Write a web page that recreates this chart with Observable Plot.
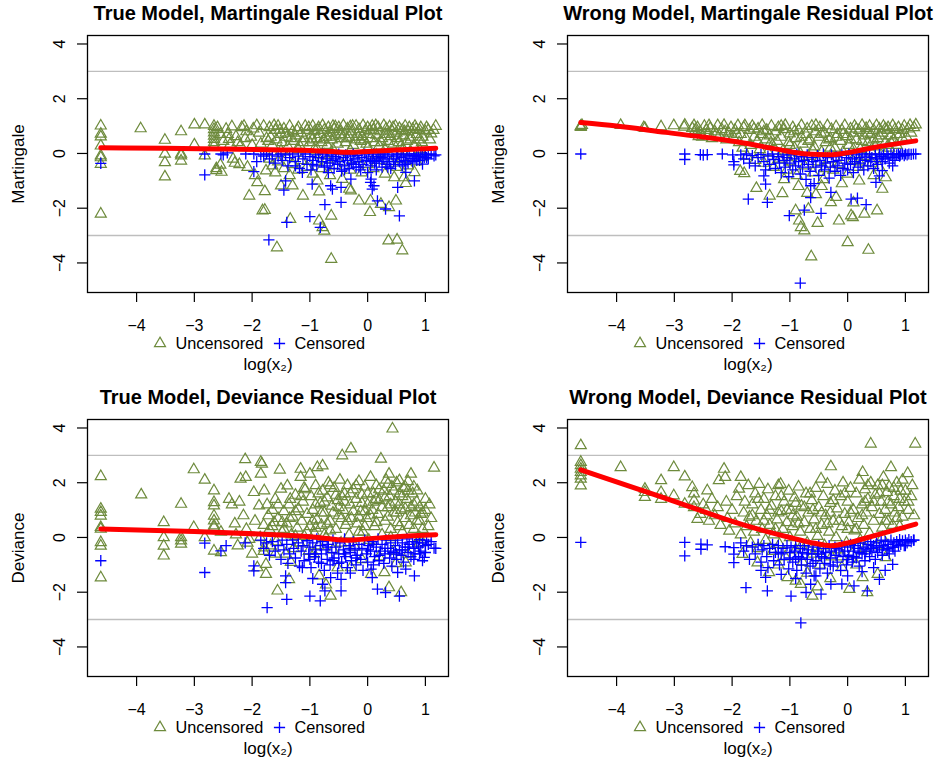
<!DOCTYPE html>
<html><head><meta charset="utf-8">
<script src="https://cdn.jsdelivr.net/npm/d3@7"></script>
<script src="https://cdn.jsdelivr.net/npm/@observablehq/plot@0.6"></script>
<style>
html,body{margin:0;padding:0;background:#fff;}
#fig{position:relative;width:937px;height:760px;overflow:hidden;background:#fff;}
.panel{position:absolute;}
</style></head><body><div id="fig"></div>
<script>
const xTicks = [-4,-3,-2,-1,0,1];
const yTicks = [-4,-2,0,2,4];
const refLines = [-3,3];
const legendLabels = ["Uncensored","Censored"];
const titles = ["True Model, Martingale Residual Plot","Wrong Model, Martingale Residual Plot","True Model, Deviance Residual Plot","Wrong Model, Deviance Residual Plot"];
const yLabels = ["Martingale","Martingale","Deviance","Deviance"];
const xLabel = "log(x\u2082)";

// Panel 1: true model, martingale
const u1 = [[-4.62,1.01],[-4.62,0.71],[-4.62,0.61],[-4.62,0.28],[-4.62,-0.08],[-4.62,-0.15],[-4.62,-0.39],[-4.62,-2.21],[-3.93,0.91],[-3.51,0.49],[-3.51,-0.02],[-3.51,-0.33],[-3.51,-0.85],[-3.23,0.8],[-3.23,-0.02],[-3.23,-0.08],[-3.23,-0.27],[-3.0,1.05],[-3.0,0.32],[-2.82,1.05],[-2.82,-0.08],
[-2.66,1.0],[-2.66,0.88],[-2.66,0.76],[-2.66,0.64],[-2.66,0.52],[-2.66,0.4],[-2.66,0.28],[-2.62,-0.55],[-2.62,-0.62],[-2.55,-0.42],[-2.53,-0.68],[-2.45,0.89],[-2.42,0.7],[-2.4,0.52],[-2.38,0.34],[-2.33,-0.2],[-2.3,-0.35],[-2.25,0.4],[-2.22,-0.4],[-2.18,0.95],[-2.14,1.0],[-2.1,0.8],[-2.08,-0.5],[-2.05,-1.55],[-2.02,0.6],[-1.98,0.9],[-1.95,-0.8],[-1.91,-1.06],[-1.88,0.75],[-1.85,0.35],[-1.82,-2.09],[-1.8,1.0],[-1.78,-1.39],[-1.76,-0.63],[-1.75,0.55],
[-1.7,0.95],[-1.68,0.6],[-1.65,0.3],[-1.6,0.85],[-1.58,0.5],[-1.55,1.0],[-1.5,0.7],[-1.48,0.4],[-1.45,0.9],[-1.4,0.6],[-1.38,0.25],[-1.35,1.0],[-1.3,0.8],[-1.28,0.45],[-1.25,0.65],[-1.2,0.95],[-1.18,0.3],[-1.15,0.75],[-1.1,0.55],[-1.08,1.0],[-1.05,0.85],[-1.0,0.4],[-0.98,0.65],[-0.95,1.0],[-0.92,0.8],[-0.9,0.25],[-0.88,0.55],[-0.85,0.95],[-0.82,0.7],[-0.8,0.4],[-0.78,1.02],[-0.75,0.85],[-0.72,0.6],[-0.7,0.3],[-0.68,0.95],[-0.65,0.75],[-0.62,0.5],[-0.6,1.0],[-0.58,0.88],[-0.55,0.65],[-0.52,0.35],[-0.5,0.95],[-0.48,0.8],[-0.45,0.55],[-0.42,1.02],[-0.4,0.7],[-0.38,0.4],[-0.35,0.9],[-0.32,0.6],[-0.3,0.98],[-0.28,0.8],[-0.25,0.3],[-0.22,0.5],[-0.2,1.0],[-0.18,0.7],[-0.15,0.88],[-0.12,0.45],[-0.1,0.62],[-0.08,1.02],[-0.05,0.8],[-0.02,0.35],[0.0,0.95],[0.02,0.7],[0.05,0.55],[0.08,1.0],[0.1,0.85],[0.12,0.4],[0.15,0.68],[0.18,0.95],[0.2,0.28],[0.22,0.8],[0.25,0.55],[0.28,1.02],[0.3,0.7],[0.32,0.9],[0.35,0.45],[0.38,0.98],[0.4,0.62],[0.42,0.82],[0.45,0.35],[0.48,1.0],[0.5,0.75],[0.52,0.55],[0.55,0.92],[0.58,0.3],[0.6,0.85],[0.62,0.65],[0.65,1.0],[0.68,0.45],[0.7,0.8],[0.72,0.95],[0.75,0.6],[0.78,0.88],[0.8,0.3],[0.82,1.0],[0.85,0.7],[0.88,0.5],[0.9,0.85],[0.92,0.95],[0.95,0.6],[1.0,0.8],[1.05,0.85],[1.1,0.72],[1.18,1.0],
[-2.6,0.95],[-2.55,0.7],[-2.5,0.45],[-2.35,0.98],[-2.28,0.62],[-2.2,0.3],[-2.12,0.55],[-2.0,0.3],[-1.92,1.02],[-1.72,0.45],[-1.62,1.02],[-1.52,0.85],[-1.42,0.75],[-1.33,0.55],[-1.22,0.85],[-1.12,0.4],[-1.02,0.95],[-0.96,0.5],[-0.86,0.85],[-0.76,0.5],[-0.66,0.6],[-0.56,0.98],[-0.46,0.7],[-0.36,0.55],[-0.26,1.0],[-0.16,0.6],[-0.06,0.5],[0.04,0.85],[0.14,1.02],[0.24,0.4],[0.34,0.7],[0.44,0.95],[0.54,0.4],[0.64,0.8],[0.74,0.5],[0.84,0.9],[0.94,0.4],[1.02,0.95],[1.08,0.5],[1.14,0.85],[-0.9,0.1],[-0.6,0.15],[-0.3,0.1],[0.0,0.2],[0.3,0.15],[0.6,0.1],[0.9,0.15],[-1.5,0.1],[-1.2,0.15],[-0.75,-0.05],[0.15,-0.05],[0.75,0.05],
[-1.7,-0.2],[-1.65,-0.45],[-1.6,-0.7],[-1.55,-0.3],[-1.45,-0.55],[-1.4,-0.15],[-1.35,-0.8],[-1.3,-0.4],[-1.2,-0.6],[-1.15,-0.25],[-1.05,-0.5],[-0.95,-0.75],[-0.9,-0.3],[-0.8,-0.55],[-0.7,-0.2],[-0.65,-0.8],[-0.55,-0.45],[-0.44,-0.94],[-0.4,-0.3],[-0.3,-0.6],[-0.2,-0.2],[-0.1,-0.7],[0.0,-0.4],[0.1,-0.55],[0.2,-0.25],[0.3,-0.75],[0.4,-0.35],[0.46,-0.88],[0.5,-0.5],[0.6,-0.2],[0.63,-0.88],[0.7,-0.45],[0.81,-0.69],[0.85,-0.3],[0.95,-0.15],
[-1.78,-2.07],[-1.57,-3.44],[-1.34,-2.40],[-1.12,-1.55],[-0.84,-1.40],[-0.84,-2.46],[-0.78,-2.70],[-0.75,-2.83],[-0.63,-2.28],[-0.63,-3.86],[-0.29,-1.36],[-0.15,-1.73],[0.04,-2.15],[0.05,-1.73],[0.23,-1.85],[0.37,-1.97],[0.36,-3.19],[0.51,-3.16],[0.49,-1.73],[0.60,-3.55],[0.66,-1.09],[-1.50,-1.18],[-1.30,-1.18],[-0.87,-1.0],[-0.32,-1.30]];
const c1 = [[-4.62,-0.36],[-2.82,-0.02],[-2.82,-0.78],[-1.97,-0.66],[-1.71,-3.16],[-1.42,-1.0],[-1.45,-1.34],[-1.40,-2.52],[-1.13,-0.69],[-1.0,-2.31],[-0.82,-2.70],[-0.96,-1.12],[-0.74,-1.87],[-0.46,-1.79],[-0.46,-1.24],[-0.64,-1.18],[-0.61,-1.30],[0.05,-1.06],[0.08,-1.30],[0.17,-1.73],[0.31,-2.03],[0.55,-2.28],[0.52,-1.24],[0.81,-1.0],[0.66,-0.69],[0.95,-0.39],[1.15,-0.09],[0.98,-0.15],[-0.29,-0.94],[0.06,-0.94],[0.11,-1.18],
[-2.54,-0.02],[-2.5,-0.05],[-2.43,0.02],[-2.11,-0.02],[-1.97,-0.02],[-1.92,-0.3],[-1.85,-0.05],
[-1.8,-0.1],[-1.75,-0.02],[-1.7,-0.2],[-1.65,-0.05],[-1.6,-0.35],[-1.55,-0.1],[-1.5,-0.02],[-1.48,-0.25],[-1.42,-0.05],[-1.38,-0.45],[-1.35,-0.15],[-1.3,-0.02],[-1.25,-0.3],[-1.2,-0.1],[-1.18,-0.55],[-1.12,-0.2],[-1.08,-0.02],[-1.05,-0.4],[-1.0,-0.12],[-0.98,-0.6],[-0.95,-0.25],[-0.9,-0.05],[-0.88,-0.45],[-0.85,-0.15],[-0.8,-0.3],[-0.78,-0.02],[-0.75,-0.5],[-0.72,-0.2],[-0.7,-0.1],[-0.68,-0.7],[-0.65,-0.35],[-0.62,-0.05],[-0.6,-0.25],[-0.58,-0.55],[-0.55,-0.12],[-0.52,-0.4],[-0.5,-0.02],[-0.48,-0.3],[-0.45,-0.65],[-0.42,-0.15],[-0.4,-0.45],[-0.38,-0.05],[-0.35,-0.25],[-0.32,-0.55],[-0.3,-0.1],[-0.28,-0.35],[-0.25,-0.02],[-0.22,-0.2],[-0.2,-0.5],[-0.18,-0.08],[-0.15,-0.3],[-0.12,-0.6],[-0.1,-0.15],[-0.08,-0.4],[-0.05,-0.02],[-0.02,-0.25],[0.0,-0.7],[0.02,-0.1],[0.05,-0.45],[0.08,-0.2],[0.1,-0.02],[0.12,-0.35],[0.15,-0.6],[0.18,-0.12],[0.2,-0.3],[0.22,-0.05],[0.25,-0.5],[0.28,-0.2],[0.3,-0.02],[0.32,-0.4],[0.35,-0.1],[0.38,-0.3],[0.4,-0.55],[0.42,-0.05],[0.45,-0.2],[0.48,-0.4],[0.5,-0.1],[0.52,-0.02],[0.55,-0.3],[0.58,-0.15],[0.6,-0.45],[0.62,-0.05],[0.65,-0.25],[0.68,-0.1],[0.7,-0.35],[0.72,-0.02],[0.75,-0.18],[0.78,-0.3],[0.8,-0.08],[0.82,-0.2],[0.85,-0.02],[0.88,-0.12],[0.9,-0.25],[0.92,-0.05],[0.95,-0.1],[1.0,-0.03],[1.02,-0.15],[1.05,-0.05],[1.1,-0.02],[1.18,-0.05],
[-1.25,-0.45],[-0.95,-0.4],[-0.7,-0.45],[-0.4,-0.6],[-0.15,-0.5],[0.05,-0.3],[0.25,-0.15],[0.45,-0.3],[0.65,-0.4],[0.85,-0.25],[1.05,-0.2],[-0.55,-0.2],[-0.25,-0.4],[0.15,-0.25],[0.35,-0.5]];
const s1 = [[-4.62,0.21],[-3.5,0.19],[-2.5,0.16],[-1.5,0.13],[-1.0,0.11],[-0.6,0.07],[-0.35,0.04],[0.0,0.07],[0.5,0.13],[1.18,0.19]];

// Panel 2: wrong model, martingale
const u2 = [[-4.62,1.0],[-4.62,0.96],[-4.6,1.03],[-3.93,1.03],[-3.53,0.95],[-3.51,0.92],[-3.23,0.98],[-3.01,1.02],[-2.83,0.97],[-2.82,1.04],[-2.69,0.92],
[-2.66,1.02],[-2.64,0.85],[-2.62,0.7],[-2.6,0.95],[-2.55,0.78],[-2.52,0.6],[-2.48,1.0],[-2.45,0.85],[-2.42,0.68],[-2.38,0.92],[-2.35,0.55],[-2.3,0.8],[-2.25,1.02],[-2.22,0.65],[-2.18,0.88],[-2.14,1.03],[-2.1,0.5],[-2.06,0.75],[-2.02,0.95],[-1.98,0.6],[-1.95,0.85],[-1.9,1.02],[-1.88,0.4],[-1.85,0.7],[-1.82,0.2],[-1.86,-0.65],[-1.8,0.95],
[-1.76,0.55],[-1.74,-0.1],[-1.7,0.85],[-1.68,0.3],[-1.65,1.0],[-1.62,0.6],[-1.6,-0.25],[-1.56,0.45],[-1.55,0.9],[-1.52,0.15],[-1.5,0.7],[-1.48,1.03],[-1.45,-0.35],[-1.42,0.5],[-1.4,0.85],[-1.38,0.05],[-1.35,0.65],[-1.32,1.0],[-1.3,0.3],[-1.28,-0.5],[-1.25,0.8],[-1.22,0.45],[-1.2,0.95],[-1.18,-0.2],[-1.15,0.6],[-1.12,0.1],[-1.1,0.88],[-1.08,1.03],[-1.05,-0.6],[-1.02,0.4],[-1.0,0.72],[-0.98,-0.15],[-0.95,0.95],[-0.92,0.2],[-0.9,0.55],[-0.88,-0.8],[-0.85,0.85],[-0.82,0.0],[-0.8,1.02],[-0.78,0.35],[-0.75,-0.45],[-0.72,0.7],[-0.7,0.9],[-0.68,-0.1],[-0.65,0.5],[-0.62,1.0],[-0.6,-0.7],[-0.58,0.25],[-0.55,0.8],[-0.52,-0.3],[-0.5,0.6],[-0.48,0.95],[-0.45,0.05],[-0.42,-0.95],[-0.4,0.75],[-0.38,0.4],[-0.35,1.02],[-0.32,-0.2],[-0.3,0.55],[-0.28,0.88],[-0.25,-0.6],[-0.22,0.2],[-0.2,0.98],[-0.18,0.7],[-0.15,-0.4],[-0.12,0.45],[-0.1,0.85],[-0.08,0.05],[-0.05,1.02],[-0.02,0.62],[0.0,-0.75],[0.02,0.3],[0.05,0.9],[0.08,-0.25],[0.1,0.75],[0.12,1.0],[0.15,0.5],[0.18,-0.5],[0.2,0.85],[0.22,0.15],[0.25,1.03],[0.28,0.65],[0.3,-0.1],[0.32,0.92],[0.35,0.4],[0.38,1.0],[0.4,0.7],[0.42,-0.35],[0.45,0.85],[0.48,0.25],[0.5,1.02],[0.52,0.55],[0.55,0.9],[0.58,-0.05],[0.6,0.75],[0.62,1.0],[0.65,0.4],[0.68,0.85],[0.7,0.95],[0.72,0.2],[0.75,0.65],[0.78,1.02],[0.8,0.5],[0.82,0.88],[0.85,0.3],[0.88,0.95],[0.9,0.7],[0.95,0.85],[0.98,1.0],[1.02,0.6],[1.05,0.9],[1.08,1.03],[1.18,1.05],
[-2.58,0.62],[-2.4,1.02],[-2.28,0.7],[-2.12,0.8],[-1.92,0.7],[-1.78,1.02],[-1.62,0.9],[-1.45,0.8],[-1.33,0.4],[-1.15,1.0],[-1.0,0.3],[-0.92,0.8],[-0.8,0.6],[-0.68,0.45],[-0.55,1.03],[-0.45,0.7],[-0.32,0.5],[-0.2,0.6],[-0.08,0.7],[0.05,0.5],[0.15,0.9],[0.25,0.45],[0.35,0.75],[0.45,0.5],[0.55,0.65],[0.65,0.9],[0.75,0.4],[0.85,0.7],[0.95,0.55],[1.1,0.75],[1.15,0.95],[-0.6,0.1],[-0.3,0.2],[0.1,0.15],[0.4,0.1],[0.7,0.3],[-1.0,-0.3],[-0.4,-0.55],[0.2,-0.3],
[-1.79,-0.73],[-1.58,-1.27],[-1.35,-1.55],[-1.13,-1.46],[-0.90,-2.09],[-0.84,-2.46],[-0.81,-2.70],[-0.75,-2.82],[-0.68,-2.03],[-0.63,-3.77],[-0.52,-2.55],[-0.29,-1.79],[-0.15,-2.46],[0.0,-3.25],[0.06,-2.27],[0.09,-2.34],[0.29,-2.21],[0.36,-3.53],[0.51,-2.09],[0.60,-1.30],[0.66,-0.88],[-1.1,-0.95],[-0.85,-1.2],[-0.7,-1.45],[-0.55,-1.5],[-0.45,-1.2],[-0.2,-1.6],[-0.1,-1.1],[0.1,-1.8],[0.2,-1.0],[0.45,-0.8],[0.55,-0.5]];
const c2 = [[-4.62,-0.02],[-2.82,-0.02],[-2.82,-0.22],[-2.55,-0.04],[-2.5,-0.06],[-2.43,-0.04],[-2.17,-0.02],[-1.99,-0.05],[-1.97,-0.3],[-1.97,-0.42],[-1.72,-1.67],
[-1.42,-1.12],[-1.39,-1.79],[-1.45,-0.82],[-1.01,-2.27],[-0.82,-4.74],[-0.75,-2.07],[-0.46,-2.19],[-0.64,-1.61],[-0.64,-1.18],[-0.29,-1.42],[0.06,-1.67],[0.17,-1.63],[0.32,-1.87],[0.49,-1.06],[0.55,-0.82],[0.78,-0.45],[0.60,-0.63],[1.18,-0.02],
[-1.85,-0.05],[-1.8,-0.2],[-1.75,-0.02],[-1.7,-0.35],[-1.65,-0.08],[-1.6,-0.45],[-1.55,-0.15],[-1.5,-0.03],[-1.45,-0.3],[-1.42,-0.6],[-1.38,-0.1],[-1.35,-0.4],[-1.3,-0.02],[-1.28,-0.22],[-1.25,-0.55],[-1.2,-0.12],[-1.18,-0.35],[-1.15,-0.7],[-1.12,-0.05],[-1.1,-0.25],[-1.08,-0.5],[-1.05,-0.15],[-1.02,-0.85],[-1.0,-0.35],[-0.98,-0.05],[-0.95,-0.6],[-0.92,-0.2],[-0.9,-0.45],[-0.88,-0.02],[-0.85,-0.3],[-0.82,-0.75],[-0.8,-0.12],[-0.78,-0.5],[-0.75,-0.25],[-0.72,-0.95],[-0.7,-0.05],[-0.68,-0.4],[-0.65,-0.65],[-0.62,-0.15],[-0.6,-0.3],[-0.58,-1.1],[-0.55,-0.5],[-0.52,-0.08],[-0.5,-0.8],[-0.48,-0.25],[-0.45,-0.45],[-0.42,-0.02],[-0.4,-0.6],[-0.38,-0.35],[-0.35,-0.15],[-0.32,-0.9],[-0.3,-0.5],[-0.28,-0.05],[-0.25,-0.3],[-0.22,-0.65],[-0.2,-0.12],[-0.18,-0.45],[-0.15,-0.25],[-0.12,-0.8],[-0.1,-0.05],[-0.08,-0.55],[-0.05,-0.35],[-0.02,-0.15],[0.0,-0.6],[0.02,-0.02],[0.05,-0.4],[0.08,-0.2],[0.1,-0.7],[0.12,-0.3],[0.15,-0.05],[0.18,-0.5],[0.2,-0.15],[0.22,-0.35],[0.25,-0.02],[0.28,-0.6],[0.3,-0.25],[0.32,-0.1],[0.35,-0.45],[0.38,-0.02],[0.4,-0.3],[0.42,-0.15],[0.45,-0.55],[0.48,-0.05],[0.5,-0.2],[0.52,-0.4],[0.55,-0.02],[0.58,-0.12],[0.6,-0.3],[0.62,-0.05],[0.65,-0.2],[0.68,-0.02],[0.7,-0.1],[0.72,-0.35],[0.75,-0.03],[0.78,-0.15],[0.8,-0.02],[0.82,-0.25],[0.85,-0.05],[0.88,-0.02],[0.9,-0.1],[0.92,-0.03],[0.95,-0.02],[0.98,-0.08],[1.0,-0.02],[1.03,-0.05],[1.06,-0.02],[1.1,-0.03],[1.14,-0.02]];
const s2 = [[-4.62,1.13],[-4.0,1.0],[-3.15,0.77],[-2.5,0.6],[-1.8,0.38],[-1.2,0.15],[-0.7,-0.02],[-0.3,-0.05],[0.0,0.03],[0.45,0.22],[1.18,0.46]];

// Panel 3: true model, deviance
const u3 = [[-4.62,2.23],[-4.62,1.04],[-4.62,0.92],[-4.62,0.79],[-4.62,0.37],[-4.62,0.31],[-4.62,-0.18],[-4.62,-0.31],[-4.62,-1.47],[-3.92,1.56],[-3.53,0.55],[-3.53,0.0],[-3.53,-0.31],[-3.53,-0.67],[-3.23,1.22],[-3.23,0.0],[-3.23,-0.12],[-3.23,-0.24],[-3.01,2.48],[-3.01,0.37],[-2.82,2.10],[-2.82,0.0],
[-2.66,1.71],[-2.66,1.28],[-2.66,1.16],[-2.66,0.79],[-2.66,0.61],[-2.66,0.43],[-2.66,0.37],[-2.66,-0.49],[-2.54,-0.55],[-2.54,0.2],[-2.40,1.40],[-2.35,1.2],[-2.3,0.5],[-2.28,0.1],[-2.25,-0.3],[-2.22,1.3],[-2.20,2.14],[-2.15,0.8],[-2.12,2.85],[-2.11,2.2],[-2.1,0.3],[-2.08,-0.2],[-2.05,-0.06],[-2.0,-0.6],[-1.97,1.65],[-1.95,0.6],[-1.91,-1.1],[-1.88,1.16],[-1.86,0.0],[-1.85,2.32],[-1.85,2.75],[-1.83,2.69],[-1.8,0.45],[-1.79,1.71],[-1.76,-1.34],[-1.74,1.2],[-1.8,-0.5],
[-1.72,0.8],[-1.7,0.3],[-1.68,-0.3],[-1.65,1.0],[-1.62,0.55],[-1.6,1.4],[-1.58,-0.15],[-1.55,0.7],[-1.52,2.47],[-1.5,1.77],[-1.48,0.2],[-1.45,0.95],[-1.42,-0.6],[-1.4,0.5],[-1.39,1.89],[-1.36,1.2],[-1.34,1.40],[-1.32,0.1],[-1.3,0.75],[-1.28,-0.4],[-1.25,1.55],[-1.22,0.35],[-1.2,1.05],[-1.18,-0.2],[-1.16,2.50],[-1.16,2.20],[-1.14,0.6],[-1.12,1.3],[-1.1,0.05],[-1.08,1.75],[-1.05,0.85],[-1.02,-0.5],[-1.0,2.32],[-1.0,0.4],[-0.98,1.5],[-0.95,1.0],[-0.92,0.15],[-0.9,1.9],[-0.88,0.65],[-0.87,2.56],[-0.85,-0.3],[-0.82,1.25],[-0.8,0.45],[-0.78,2.62],[-0.78,1.7],[-0.75,0.9],[-0.72,0.0],[-0.7,1.45],[-0.68,2.0],[-0.65,0.6],[-0.62,1.15],[-0.6,-0.45],[-0.58,1.8],[-0.55,0.3],[-0.52,1.35],[-0.5,0.8],[-0.48,2.1],[-0.46,-0.2],[-0.44,2.99],[-0.42,1.0],[-0.4,1.6],[-0.38,0.45],[-0.35,1.9],[-0.32,0.1],[-0.3,1.2],[-0.29,3.24],[-0.28,0.7],[-0.25,1.75],[-0.22,-0.35],[-0.2,1.4],[-0.18,0.5],[-0.15,2.05],[-0.12,0.95],[-0.1,1.55],[-0.08,0.2],[-0.05,1.85],[-0.02,0.7],[0.0,1.2],[0.02,-0.1],[0.05,2.2],[0.08,1.0],[0.1,1.6],[0.12,0.4],[0.15,1.9],[0.18,0.85],[0.2,1.35],[0.23,2.87],[0.25,0.1],[0.28,1.7],[0.3,0.6],[0.32,2.1],[0.35,1.1],[0.37,2.32],[0.38,1.5],[0.4,0.3],[0.42,1.85],[0.43,3.97],[0.45,0.9],[0.48,1.3],[0.5,2.0],[0.52,0.55],[0.55,2.08],[0.55,1.6],[0.58,1.0],[0.6,0.2],[0.62,1.8],[0.65,0.7],[0.68,1.4],[0.7,2.05],[0.72,0.45],[0.75,2.32],[0.75,1.1],[0.78,1.6],[0.8,0.3],[0.82,0.9],[0.85,1.3],[0.86,1.71],[0.9,0.6],[0.92,0.85],[0.95,0.3],[1.0,1.0],[1.07,1.2],[1.15,2.54],[1.05,0.4],
[-1.65,0.4],[-1.55,1.2],[-1.45,0.3],[-1.35,0.7],[-1.25,0.95],[-1.15,1.5],[-1.05,0.2],[-0.95,0.6],[-0.9,1.2],[-0.85,1.6],[-0.8,0.9],[-0.75,1.3],[-0.7,0.5],[-0.65,1.9],[-0.6,0.9],[-0.55,1.55],[-0.5,1.1],[-0.45,0.7],[-0.4,1.3],[-0.35,0.6],[-0.3,1.6],[-0.25,0.95],[-0.2,1.9],[-0.15,0.75],[-0.1,1.25],[-0.05,0.4],[0.0,1.6],[0.05,0.8],[0.1,1.3],[0.15,0.55],[0.2,1.75],[0.25,1.1],[0.3,1.45],[0.35,0.75],[0.4,1.2],[0.45,1.7],[0.5,0.9],[0.55,1.2],[0.6,1.5],[0.65,1.05],[0.7,1.7],[0.75,0.8],[0.8,1.2],[0.85,0.6],[0.9,1.1],[0.95,0.9],[-0.45,1.5],[0.15,1.4],[0.55,0.4],[-0.65,0.25],[-0.05,0.95],[0.35,1.95],[0.65,1.85],[-1.1,1.8],[-0.9,0.35],[0.8,1.85],[1.0,1.4],[1.1,0.7],[-1.48,0.55],[-1.25,0.05],[-0.75,0.1],[-0.15,0.2],[0.4,0.0],[0.9,0.0],
[-1.79,-0.37],[-1.76,-0.98],[-1.56,-1.95],[-1.36,-1.53],[-1.6,-0.6],[-1.33,-0.9],[-0.93,-0.6],[-0.84,-1.4],[-0.64,-2.14],[-0.72,-1.73],[-0.52,-1.1],[-0.29,-1.1],[0.06,-1.34],[0.29,-1.28],[0.37,-1.83],[0.49,-0.95],[0.58,-2.01],[0.66,-0.92],[0.7,-0.6],[0.2,-0.7],[-0.1,-0.8],[0.45,-0.5],[0.9,-0.2]];
const c3 = [[-4.62,-0.85],[-2.82,-1.28],[-2.82,-0.21],[-2.54,-0.49],[-2.45,-0.3],[-2.12,-0.2],[-1.97,-1.04],[-1.97,-1.22],[-1.74,-2.56],[-1.42,-1.65],[-1.42,-1.40],[-1.40,-2.26],[-1.13,-1.1],[-1.0,-2.14],[-0.82,-2.32],[-0.95,-1.5],[-0.78,-1.71],[-0.74,-1.95],[-0.46,-1.95],[-0.46,-1.53],[-0.64,-1.47],[-0.3,-1.3],[0.06,-1.16],[0.08,-1.47],[0.17,-1.89],[0.31,-2.01],[0.55,-2.14],[0.52,-1.28],[0.81,-1.40],[0.66,-1.16],[0.95,-0.85],[1.15,-0.39],[0.98,-0.73],
[-1.85,-0.1],[-1.8,-0.4],[-1.75,-0.2],[-1.7,-0.65],[-1.65,-0.15],[-1.6,-0.5],[-1.55,-0.3],[-1.5,-0.8],[-1.48,-0.1],[-1.45,-0.45],[-1.4,-0.25],[-1.38,-0.95],[-1.35,-0.6],[-1.3,-0.1],[-1.28,-0.4],[-1.25,-0.75],[-1.2,-0.2],[-1.18,-1.05],[-1.15,-0.5],[-1.12,-0.3],[-1.1,-0.85],[-1.05,-0.12],[-1.02,-0.6],[-1.0,-0.35],[-0.98,-1.1],[-0.95,-0.2],[-0.92,-0.7],[-0.9,-0.45],[-0.88,-0.05],[-0.85,-0.9],[-0.82,-0.3],[-0.8,-0.6],[-0.78,-0.15],[-0.75,-1.2],[-0.72,-0.45],[-0.7,-0.8],[-0.68,-0.25],[-0.65,-1.0],[-0.62,-0.55],[-0.6,-0.1],[-0.58,-0.75],[-0.55,-0.35],[-0.52,-1.3],[-0.5,-0.6],[-0.48,-0.2],[-0.45,-0.9],[-0.42,-0.45],[-0.4,-0.05],[-0.38,-0.7],[-0.35,-1.1],[-0.32,-0.3],[-0.3,-0.55],[-0.28,-0.85],[-0.25,-0.15],[-0.22,-0.45],[-0.2,-1.0],[-0.18,-0.65],[-0.15,-0.25],[-0.12,-0.8],[-0.1,-0.4],[-0.08,-1.2],[-0.05,-0.1],[-0.02,-0.6],[0.0,-0.9],[0.02,-0.3],[0.05,-0.5],[0.08,-0.15],[0.1,-1.0],[0.12,-0.7],[0.15,-0.35],[0.18,-0.05],[0.2,-0.85],[0.22,-0.5],[0.25,-0.25],[0.28,-0.95],[0.3,-0.6],[0.32,-0.1],[0.35,-0.4],[0.38,-0.75],[0.4,-0.2],[0.42,-1.05],[0.45,-0.55],[0.48,-0.3],[0.5,-0.8],[0.52,-0.1],[0.55,-0.45],[0.58,-0.65],[0.6,-0.2],[0.62,-0.9],[0.65,-0.35],[0.68,-0.05],[0.7,-0.55],[0.72,-0.25],[0.75,-0.7],[0.78,-0.15],[0.8,-0.4],[0.82,-0.6],[0.85,-0.2],[0.88,-0.35],[0.9,-0.08],[0.92,-0.5],[0.95,-0.2],[1.0,-0.3],[1.02,-0.1],[1.05,-0.25],[1.1,-0.15],[1.18,-0.4],
[-1.0,-0.8],[-0.8,-0.95],[-0.6,-0.85],[-0.4,-0.6],[-0.2,-0.75],[0.0,-0.45],[0.2,-0.65],[0.4,-0.5],[0.6,-0.45],[0.8,-0.8],[1.0,-0.55],[-0.5,-0.95],[-0.3,-0.4],[0.1,-0.25],[0.3,-0.4],[0.5,-0.6],[0.7,-0.35],[0.9,-0.6],[-0.7,-0.35],[-0.9,-0.6]];
const s3 = [[-4.62,0.31],[-3.0,0.22],[-1.8,0.12],[-1.0,0.03],[-0.35,-0.1],[0.0,-0.05],[0.5,0.03],[1.18,0.1]];

// Panel 4: wrong model, deviance
const u4 = [[-4.62,3.36],[-4.62,2.75],[-4.62,2.63],[-4.62,2.5],[-4.62,2.38],[-4.62,2.26],[-4.62,2.14],[-4.62,1.89],[-3.93,2.56],[-3.51,1.77],[-3.51,1.65],[-3.51,1.47],[-3.23,2.08],[-3.23,1.65],[-3.23,1.40],[-3.01,2.56],[-3.01,1.53],[-2.82,2.22],[-2.82,1.22],[-2.69,1.83],[-2.66,1.34],[-2.66,1.10],[-2.66,1.6],[-2.6,0.67],[-2.55,0.85],[-2.5,1.2],[-2.45,1.0],[-2.43,1.71],[-2.4,0.6],[-2.35,1.4],[-2.3,0.8],[-2.25,1.1],[-2.23,2.08],[-2.2,0.45],[-2.14,2.5],[-2.12,2.2],[-2.1,1.3],[-2.08,0.7],[-2.05,0.24],[-2.0,1.0],[-1.95,0.5],[-1.92,1.5],[-1.88,1.77],[-1.85,2.2],[-1.85,0.1],[-1.82,-0.61],[-1.8,0.9],
[-1.78,1.3],[-1.75,0.4],[-1.72,1.9],[-1.7,0.75],[-1.68,-0.2],[-1.65,1.2],[-1.62,0.2],[-1.6,1.6],[-1.58,0.6],[-1.55,-0.4],[-1.53,1.95],[-1.5,1.0],[-1.48,0.3],[-1.45,1.4],[-1.42,-0.1],[-1.4,0.8],[-1.38,1.75],[-1.35,0.45],[-1.32,1.15],[-1.3,-0.5],[-1.28,0.1],[-1.25,1.5],[-1.22,0.65],[-1.2,1.9],[-1.18,-0.25],[-1.16,1.95],[-1.15,0.95],[-1.12,0.3],[-1.1,1.3],[-1.08,-0.7],[-1.05,0.55],[-1.02,1.7],[-1.0,0.0],[-0.98,1.0],[-0.95,0.4],[-0.92,1.45],[-0.9,-0.45],[-0.88,0.75],[-0.85,1.85],[-0.82,0.2],[-0.8,1.15],[-0.78,-0.9],[-0.75,0.55],[-0.72,1.6],[-0.7,-0.2],[-0.68,0.9],[-0.65,0.3],[-0.62,1.35],[-0.6,-0.6],[-0.58,0.65],[-0.55,1.8],[-0.52,0.05],[-0.5,1.1],[-0.48,-1.0],[-0.46,2.14],[-0.45,0.45],[-0.42,1.5],[-0.4,-0.3],[-0.38,0.8],[-0.35,1.95],[-0.32,0.2],[-0.3,1.25],[-0.29,2.59],[-0.28,-0.7],[-0.25,0.6],[-0.22,1.7],[-0.2,0.0],[-0.18,1.05],[-0.15,-0.45],[-0.12,1.5],[-0.1,0.4],[-0.08,2.0],[-0.05,0.85],[-0.02,-0.2],[0.0,1.3],[0.02,0.55],[0.05,1.8],[0.08,-0.6],[0.1,1.0],[0.12,0.25],[0.15,1.6],[0.18,0.7],[0.2,2.1],[0.22,-0.1],[0.25,1.2],[0.26,2.38],[0.28,0.45],[0.3,1.75],[0.32,0.9],[0.35,1.4],[0.38,0.15],[0.4,3.42],[0.4,2.0],[0.42,1.1],[0.45,0.6],[0.48,1.55],[0.5,-0.3],[0.52,1.9],[0.55,0.85],[0.58,1.3],[0.6,0.35],[0.62,2.2],[0.65,1.0],[0.68,1.65],[0.7,0.6],[0.72,1.85],[0.75,2.56],[0.75,1.2],[0.78,0.45],[0.8,1.5],[0.82,0.9],[0.85,2.0],[0.88,1.1],[0.9,0.4],[0.92,1.7],[0.95,0.75],[0.98,1.3],[1.04,2.34],[1.05,1.0],[1.1,1.5],[1.17,3.42],
[-1.65,0.8],[-1.55,1.4],[-1.45,0.6],[-1.35,1.0],[-1.25,0.3],[-1.15,1.5],[-1.05,1.0],[-0.95,0.8],[-0.85,0.5],[-0.75,1.1],[-0.65,1.6],[-0.55,0.3],[-0.45,0.9],[-0.35,0.5],[-0.25,1.35],[-0.15,0.6],[-0.05,1.6],[0.05,0.9],[0.15,0.3],[0.25,0.8],[0.35,1.9],[0.45,1.3],[0.55,1.6],[0.65,0.6],[0.7,1.3],[0.8,1.8],[0.85,0.7],[0.9,1.4],[0.95,2.1],[1.0,1.7],[1.05,1.3],[1.12,1.9],[1.15,0.8],[0.6,1.9],[0.3,1.3],[0.0,0.3],[-0.3,0.9],[-0.6,1.0],[-0.9,1.25],[-1.2,0.9],[-0.5,-0.5],[-0.1,-0.7],[0.3,-0.4],[0.6,0.0],[-0.8,-0.3],
[-1.56,-0.92],[-1.36,-1.28],[-1.04,-1.46],[-0.90,-1.59],[-0.81,-1.71],[-0.61,-2.14],[-0.52,-1.8],[0.03,-1.89],[0.26,-1.46],[0.34,-2.01],[0.52,-1.34],[0.66,-0.73],[-0.3,-1.5],[-0.1,-1.1],[0.15,-1.0],[-1.2,-1.0],[-0.7,-1.3]];
const c4 = [[-4.62,-0.18],[-2.82,-0.18],[-2.82,-0.67],[-2.54,-0.24],[-2.54,-0.43],[-2.43,-0.27],[-2.12,-0.34],[-1.97,-0.37],[-1.97,-0.61],[-1.97,-0.92],[-1.76,-1.83],
[-1.39,-1.95],[-1.42,-1.46],[-0.98,-2.14],[-0.81,-3.12],[-0.72,-2.01],[-0.46,-2.07],[-0.64,-1.71],[-0.29,-1.71],[-0.1,-1.7],[0.11,-1.77],[0.34,-1.95],[0.55,-1.53],[0.78,-0.98],[1.15,-0.10],[-1.5,-1.2],[-1.15,-1.35],[-0.9,-1.5],[-0.55,-1.4],[0.0,-1.4],[0.25,-1.25],[0.45,-1.1],[0.65,-1.2],
[-1.85,-0.2],[-1.8,-0.5],[-1.75,-0.3],[-1.7,-0.8],[-1.65,-0.35],[-1.6,-0.6],[-1.55,-0.25],[-1.5,-0.9],[-1.48,-0.45],[-1.45,-0.3],[-1.4,-0.7],[-1.38,-1.1],[-1.35,-0.4],[-1.3,-0.25],[-1.28,-0.85],[-1.25,-0.55],[-1.2,-0.3],[-1.18,-1.0],[-1.15,-0.6],[-1.12,-0.4],[-1.1,-0.8],[-1.05,-0.3],[-1.02,-1.15],[-1.0,-0.55],[-0.98,-0.35],[-0.95,-0.9],[-0.92,-0.5],[-0.9,-0.3],[-0.88,-1.2],[-0.85,-0.7],[-0.82,-0.4],[-0.8,-1.0],[-0.78,-0.55],[-0.75,-0.3],[-0.72,-1.3],[-0.7,-0.8],[-0.68,-0.45],[-0.65,-1.05],[-0.62,-0.6],[-0.6,-0.35],[-0.58,-1.4],[-0.55,-0.85],[-0.52,-0.5],[-0.5,-0.3],[-0.48,-1.15],[-0.45,-0.7],[-0.42,-0.4],[-0.4,-0.95],[-0.38,-0.55],[-0.35,-1.3],[-0.32,-0.3],[-0.3,-0.75],[-0.28,-0.5],[-0.25,-1.05],[-0.22,-0.35],[-0.2,-0.65],[-0.18,-0.9],[-0.15,-0.45],[-0.12,-1.2],[-0.1,-0.3],[-0.08,-0.7],[-0.05,-0.5],[-0.02,-1.0],[0.0,-0.35],[0.02,-0.65],[0.05,-0.25],[0.08,-0.9],[0.1,-0.5],[0.12,-0.3],[0.15,-0.75],[0.18,-0.4],[0.2,-1.05],[0.22,-0.2],[0.25,-0.6],[0.28,-0.35],[0.3,-0.85],[0.32,-0.45],[0.35,-0.25],[0.38,-0.7],[0.4,-0.15],[0.42,-0.5],[0.45,-0.3],[0.48,-0.8],[0.5,-0.2],[0.52,-0.55],[0.55,-0.35],[0.58,-0.1],[0.6,-0.65],[0.62,-0.3],[0.65,-0.15],[0.68,-0.45],[0.7,-0.25],[0.72,-0.6],[0.75,-0.1],[0.78,-0.35],[0.8,-0.2],[0.82,-0.5],[0.85,-0.15],[0.88,-0.3],[0.9,-0.08],[0.92,-0.25],[0.95,-0.12],[0.98,-0.3],[1.0,-0.1],[1.03,-0.2],[1.06,-0.08],[1.1,-0.15],[1.14,-0.1],
[-1.0,-0.75],[-0.8,-0.75],[-0.6,-0.95],[-0.4,-0.75],[-0.2,-0.4],[0.0,-0.8],[0.2,-0.55],[0.4,-0.4],[0.6,-0.45],[0.8,-0.35],[1.0,-0.3],[-0.5,-0.6],[-0.3,-1.0],[0.1,-0.7],[0.3,-0.6],[0.5,-0.35],[0.7,-0.4],[-0.7,-0.6],[-0.9,-0.8],[-1.2,-0.55]];
const s4 = [[-4.62,2.47],[-3.15,1.43],[-1.76,0.43],[-1.0,0.0],[-0.6,-0.2],[-0.29,-0.30],[0.0,-0.2],[0.45,0.06],[1.18,0.49]];

const GREEN = "#6E8B3D", BLUE = "#0000FF", RED = "#FF0000";
const FONT = "'Liberation Sans', Arial, Helvetica, sans-serif";
const fmt = d => String(d).replace("-", "\u2212");

function makePanel(title, ylab, unc, cen, smooth, W, H) {
  return Plot.plot({
    width: W, height: H,
    marginLeft: 87, marginRight: W - 448, marginTop: 35, marginBottom: H - 292,
    x: {domain: [-4.85, 1.40]},
    y: {domain: [-5.08, 4.31]},
    style: {background: "none", fontFamily: FONT, fontSize: "16px", overflow: "visible", color: "black"},
    marks: [
      Plot.ruleY(refLines, {y: d => d, stroke: "#BEBEBE", strokeWidth: 1.4}),
      Plot.dot(unc, {x: d => d[0], y: d => d[1], symbol: "triangle", r: 4.1, fill: "none", stroke: GREEN, strokeWidth: 1.2}),
      Plot.dot(cen, {x: d => d[0], y: d => d[1], symbol: "plus", r: 3.7, stroke: BLUE, strokeWidth: 1.3}),
      Plot.line(smooth, {x: d => d[0], y: d => d[1], stroke: RED, strokeWidth: 5, curve: "monotone-x"}),
      Plot.frame({stroke: "black", strokeWidth: 1.3}),
      Plot.axisX(xTicks, {tickSize: 10, tickFormat: () => "", strokeWidth: 1.2}),
      Plot.axisY(yTicks, {tickSize: 10, tickFormat: () => "", strokeWidth: 1.2}),
      Plot.text(xTicks, {x: d => d, frameAnchor: "bottom", dy: 33, text: fmt, fontSize: 16, lineAnchor: "middle", fill: "black"}),
      Plot.text(yTicks, {y: d => d, frameAnchor: "left", dx: -28, rotate: -90, text: fmt, fontSize: 16, lineAnchor: "middle", textAnchor: "middle", fill: "black"}),
      Plot.text([title], {frameAnchor: "top", dy: -22, text: d => d, fontSize: 20, fontWeight: "bold", lineAnchor: "middle", fill: "black"}),
      Plot.text([ylab], {frameAnchor: "left", dx: -69, rotate: -90, text: d => d, fontSize: 17, lineAnchor: "middle", textAnchor: "middle", fill: "black"}),
      Plot.text([xLabel], {frameAnchor: "bottom", dy: 72, text: d => d, fontSize: 17, lineAnchor: "middle", fill: "black"}),
      Plot.dot([legendLabels[0]], {frameAnchor: "bottom", dx: -108, dy: 51, symbol: "triangle", r: 4.1, fill: "none", stroke: GREEN, strokeWidth: 1.2}),
      Plot.text([legendLabels[0]], {frameAnchor: "bottom", dx: -92.5, dy: 51, text: d => d, textAnchor: "start", lineAnchor: "middle", fontSize: 16.3, fill: "black"}),
      Plot.dot([legendLabels[1]], {frameAnchor: "bottom", dx: 11.5, dy: 51, symbol: "plus", r: 3.7, stroke: BLUE, strokeWidth: 1.3}),
      Plot.text([legendLabels[1]], {frameAnchor: "bottom", dx: 26.5, dy: 51, text: d => d, textAnchor: "start", lineAnchor: "middle", fontSize: 16.3, fill: "black"})
    ]
  });
}

const fig = document.getElementById("fig");
const specs = [
  {left: 0, top: 0, W: 470, H: 380, u: u1, c: c1, s: s1},
  {left: 480, top: 0, W: 457, H: 380, u: u2, c: c2, s: s2},
  {left: 0, top: 384, W: 470, H: 376, u: u3, c: c3, s: s3},
  {left: 480, top: 384, W: 457, H: 376, u: u4, c: c4, s: s4}
];
specs.forEach((p, i) => {
  const div = document.createElement("div");
  div.className = "panel";
  div.style.left = p.left + "px";
  div.style.top = p.top + "px";
  div.appendChild(makePanel(titles[i], yLabels[i], p.u, p.c, p.s, p.W, p.H));
  fig.appendChild(div);
});
</script></body></html>
